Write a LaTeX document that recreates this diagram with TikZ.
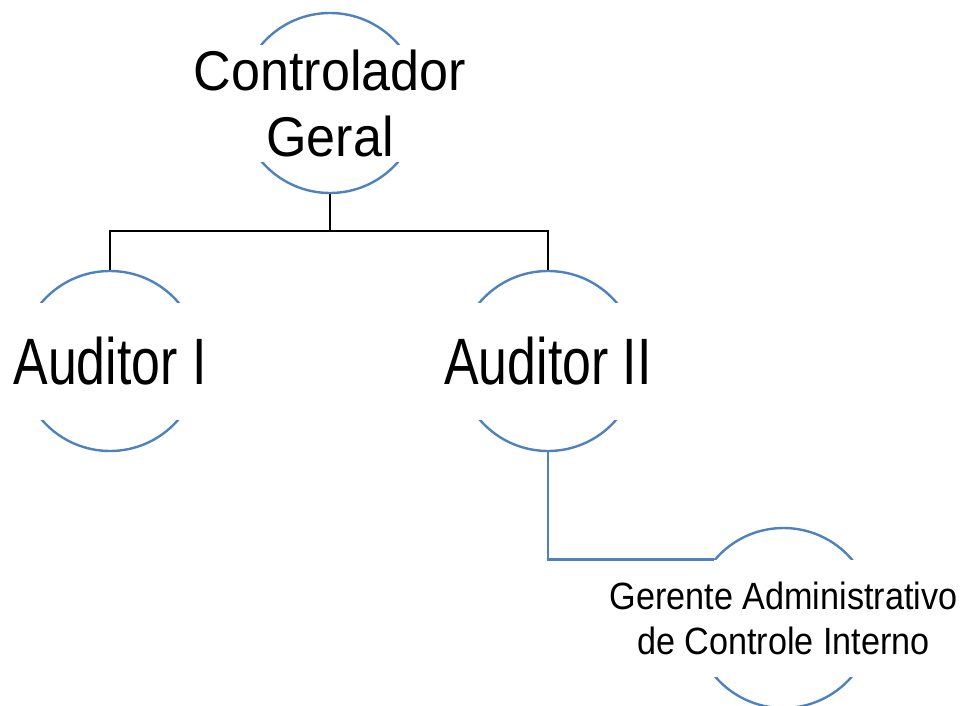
\documentclass[tikz,border=0pt]{standalone}
\usepackage{fontspec}
\setmainfont[FakeStretch=0.93]{Liberation Sans}
\newfontfamily\estreita[FakeStretch=0.79]{Liberation Sans}
\newfontfamily\media[FakeStretch=0.9]{Liberation Sans}
\definecolor{azulorg}{RGB}{79,129,189}

\begin{document}
\begin{tikzpicture}[
        x=1pt, y=-1pt,
        circulo/.style={circle, draw=azulorg, line width=2.4pt, minimum size=180pt, inner sep=0pt},
        rotulo/.style={fill=white, align=center, minimum height=117pt, minimum width=200pt, inner sep=1pt},
        ligacao/.style={draw=black, line width=2.6pt},
        ligacaoAzul/.style={draw=azulorg, line width=2.4pt}
    ]
    \useasboundingbox (0,0) rectangle (964,705);

    % Controlador
    \node[circulo] (controlador) at (330,103) {};
    \node[rotulo, font={\fontsize{56}{66}\selectfont}] (controladorTexto) at (controlador) {Controlador\\Geral};

    % Auditores
    \node[circulo] (auditor1) at (110,361) {};
    \node[rotulo, font={\estreita\fontsize{65.6}{70}\selectfont}] (auditor1Texto) at (auditor1) {Auditor I};
    \node[circulo] (auditor2) at (548,361) {};
    \node[rotulo, font={\estreita\fontsize{65.6}{70}\selectfont}] (auditor2Texto) at (auditor2) {Auditor II};

    % Gerente
    \node[circulo] (gerente) at (783.5,618) {};
    \node[rotulo, font={\media\fontsize{38}{45}\selectfont}] (gerenteTexto) at (gerente) {Gerente Administrativo\\de Controle Interno};

    % Aristas
    \coordinate (juncao) at (330,231);
    \draw[ligacao] (controlador.south) -- (juncao);
    \draw[ligacao] (auditor1.north) |- (juncao) -| (auditor2.north);
    \draw[ligacaoAzul] (auditor2.south) |- (gerente.140);
\end{tikzpicture}
\end{document}
